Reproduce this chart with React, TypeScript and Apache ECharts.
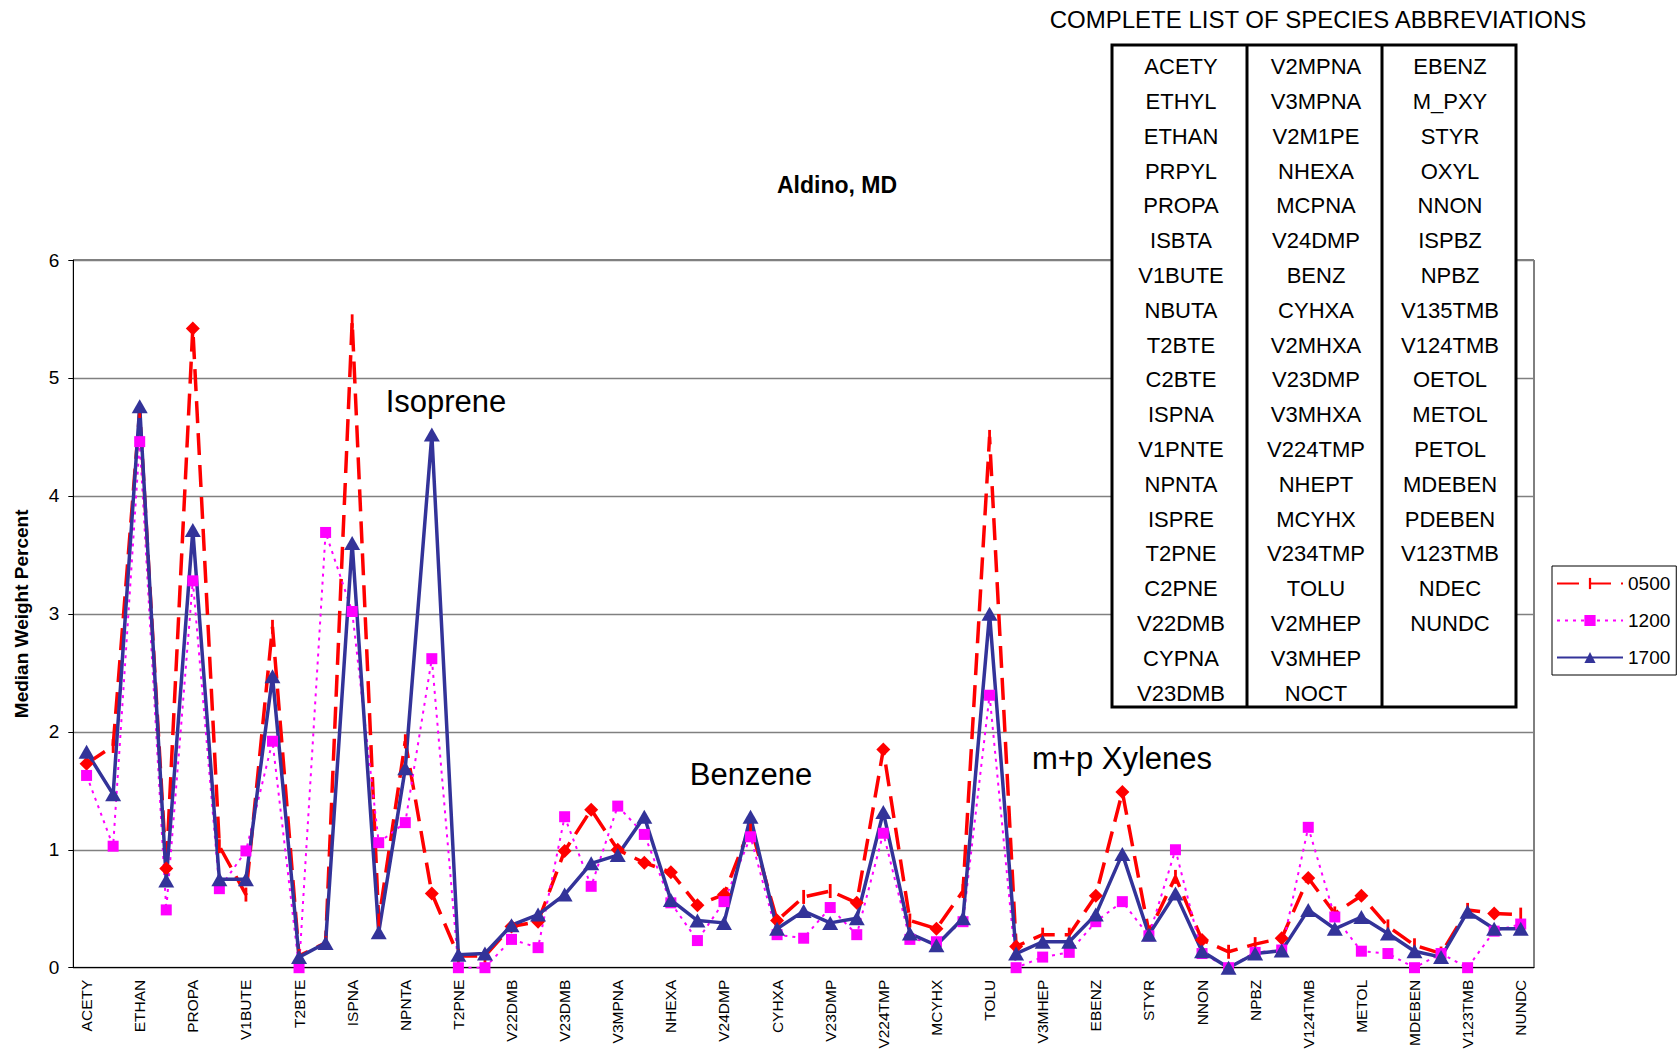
import React, { useEffect, useRef } from "react";
import * as echarts from "echarts";

const FONT = "'Liberation Sans', Arial, Helvetica, sans-serif";

const categories = [
  "ACETY", "ETHYL", "ETHAN", "PRPYL", "PROPA", "ISBTA", "V1BUTE", "NBUTA", "T2BTE", "C2BTE",
  "ISPNA", "V1PNTE", "NPNTA", "ISPRE", "T2PNE", "C2PNE", "V22DMB", "CYPNA", "V23DMB",
  "V2MPNA", "V3MPNA", "V2M1PE", "NHEXA", "MCPNA", "V24DMP", "BENZ", "CYHXA", "V2MHXA", "V23DMP",
  "V3MHXA", "V224TMP", "NHEPT", "MCYHX", "V234TMP", "TOLU", "V2MHEP", "V3MHEP", "NOCT",
  "EBENZ", "M_PXY", "STYR", "OXYL", "NNON", "ISPBZ", "NPBZ", "V135TMB", "V124TMB", "OETOL",
  "METOL", "PETOL", "MDEBEN", "PDEBEN", "V123TMB", "NDEC", "NUNDC",
];

const s0500 = [
  1.73, 1.88, 4.72, 0.84, 5.42, 1.03, 0.62, 2.89, 0.1, 0.21,
  5.48, 0.4, 1.92, 0.63, 0.1, 0.1, 0.35, 0.39, 0.99,
  1.34, 1.0, 0.89, 0.81, 0.53, 0.62, 1.2, 0.4, 0.6, 0.65,
  0.55, 1.85, 0.4, 0.33, 0.65, 4.5, 0.18, 0.28, 0.28,
  0.61, 1.49, 0.3, 0.77, 0.235, 0.135, 0.2, 0.25, 0.76, 0.46,
  0.61, 0.35, 0.19, 0.12, 0.49, 0.46, 0.45,
];

const s1200 = [
  1.63, 1.03, 4.46, 0.49, 3.28, 0.67, 0.99, 1.92, 0.0, 3.69,
  3.02, 1.06, 1.23, 2.62, 0.0, 0.0, 0.24, 0.17, 1.28,
  0.69, 1.37, 1.13, 0.55, 0.23, 0.56, 1.11, 0.28, 0.25, 0.51,
  0.28, 1.14, 0.24, 0.22, 0.39, 2.31, 0.0, 0.09, 0.13,
  0.39, 0.56, 0.27, 1.0, 0.12, 0.0, 0.13, 0.15, 1.19, 0.43,
  0.14, 0.12, 0.0, 0.12, 0.0, 0.31, 0.37,
];

const s1700 = [
  1.83, 1.47, 4.76, 0.74, 3.71, 0.75, 0.75, 2.47, 0.09, 0.21,
  3.6, 0.3, 1.69, 4.52, 0.11, 0.12, 0.36, 0.45, 0.62,
  0.885, 0.955, 1.28, 0.575, 0.4, 0.38, 1.28, 0.33, 0.48, 0.38,
  0.42, 1.32, 0.29, 0.19, 0.42, 3.0, 0.12, 0.22, 0.22,
  0.45, 0.965, 0.28, 0.63, 0.14, 0.0, 0.12, 0.145, 0.49, 0.33,
  0.43, 0.29, 0.14, 0.09, 0.475, 0.33, 0.33,
];

const seriesNames = ["0500", "1200", "1700"];

// 0500 points whose diamond marker is fully visible in the original (others show only a dash tick)
const redDiamondPoints = [0, 3, 4, 13, 16, 17, 18, 19, 20, 21, 22, 23, 24, 26, 29, 30, 32, 35, 38, 39, 42, 45, 46, 48, 53];

const tableColumns = [
  categories.slice(0, 19),
  categories.slice(19, 38),
  categories.slice(38, 55),
];

const annotations = [
  { text: "Isoprene", x: 446, y: 401 },
  { text: "Benzene", x: 751, y: 774 },
  { text: "m+p Xylenes", x: 1122, y: 758 },
];

const TICK_PATH = "path://M0 0M10 0M4 0L6 0L6 10L4 10Z";

export default function App() {
  const ref = useRef<HTMLDivElement>(null);

  useEffect(() => {
    if (!ref.current) return;
    const chart = echarts.init(ref.current, undefined, { renderer: "svg" });

    const tableLeft = 1112;
    const tableTop = 45;
    const tableW = 404;
    const tableH = 662;
    const colCenters = [1181, 1316, 1450];
    const graphic: any[] = [];
    graphic.push({
      type: "rect",
      z: 100,
      shape: { x: tableLeft, y: tableTop, width: tableW, height: tableH },
      style: { fill: "#fff", stroke: "#000", lineWidth: 3 },
    });
    [1247, 1382].forEach((x) =>
      graphic.push({
        type: "line",
        z: 101,
        shape: { x1: x, y1: tableTop, x2: x, y2: tableTop + tableH },
        style: { stroke: "#000", lineWidth: 3 },
      })
    );
    tableColumns.forEach((col, c) =>
      col.forEach((name, r) =>
        graphic.push({
          type: "text",
          z: 102,
          x: colCenters[c],
          y: 66.6 + r * 34.8,
          style: {
            text: name,
            fontSize: 22,
            fontFamily: FONT,
            fill: "#000",
            align: "center",
            verticalAlign: "middle",
          },
        })
      )
    );
    graphic.push({
      type: "text",
      z: 102,
      x: 1318,
      y: 19,
      style: {
        text: "COMPLETE LIST OF SPECIES ABBREVIATIONS",
        fontSize: 24,
        fontFamily: FONT,
        fill: "#000",
        align: "center",
        verticalAlign: "middle",
      },
    });
    graphic.push({
      type: "text",
      z: 102,
      x: 837,
      y: 185,
      style: {
        text: "Aldino, MD",
        fontSize: 23,
        fontWeight: "bold",
        fontFamily: FONT,
        fill: "#000",
        align: "center",
        verticalAlign: "middle",
      },
    });
    annotations.forEach((a) =>
      graphic.push({
        type: "text",
        z: 102,
        x: a.x,
        y: a.y,
        style: {
          text: a.text,
          fontSize: 31,
          fontFamily: FONT,
          fill: "#000",
          align: "center",
          verticalAlign: "middle",
        },
      })
    );

    const diamondSet = new Set(redDiamondPoints);
    const redData = s0500.map((v, i) =>
      diamondSet.has(i) ? { value: v, symbol: "diamond", symbolSize: 14 } : v
    );

    const option: any = {
      animation: false,
      backgroundColor: "#fff",
      textStyle: { fontFamily: FONT },
      grid: {
        left: 73.3,
        right: 146,
        top: 260,
        bottom: 87.3,
        show: true,
        borderColor: "#000",
        borderWidth: 1,
        backgroundColor: "#fff",
      },
      legend: {
        data: seriesNames,
        orient: "vertical",
        left: 1552,
        top: 566,
        itemWidth: 66,
        itemHeight: 14,
        itemGap: 18,
        padding: [8, 6, 8, 4],
        borderColor: "#000",
        borderWidth: 1,
        backgroundColor: "#fff",
        textStyle: { fontSize: 19, color: "#000", fontFamily: FONT },
      },
      xAxis: {
        type: "category",
        data: categories,
        boundaryGap: true,
        axisLine: { lineStyle: { color: "#000", width: 1 } },
        axisTick: { interval: 0, length: 5, lineStyle: { color: "#000" } },
        axisLabel: {
          interval: 1,
          rotate: 90,
          fontSize: 15.5,
          color: "#000",
          margin: 12,
          fontFamily: FONT,
        },
        splitLine: { show: false },
      },
      yAxis: {
        type: "value",
        min: 0,
        max: 6,
        interval: 1,
        name: "Median Weight Percent",
        nameLocation: "middle",
        nameGap: 42,
        nameTextStyle: { fontSize: 19, fontWeight: "bold", color: "#000", fontFamily: FONT },
        axisLine: { show: true, lineStyle: { color: "#000" } },
        axisTick: { show: true, length: 5, lineStyle: { color: "#000" } },
        axisLabel: { fontSize: 19, color: "#000", margin: 14, fontFamily: FONT },
        splitLine: { show: true, lineStyle: { color: "#808080", width: 1.3 } },
      },
      series: [
        {
          name: seriesNames[0],
          type: "line",
          data: redData,
          symbol: TICK_PATH,
          symbolSize: 14,
          showAllSymbol: true,
          lineStyle: { color: "#FF0000", width: 3.5, type: [22, 10] },
          itemStyle: { color: "#FF0000" },
        },
        {
          name: seriesNames[1],
          type: "line",
          data: s1200,
          symbol: "rect",
          symbolSize: 11,
          showAllSymbol: true,
          lineStyle: { color: "#FF00FF", width: 2, type: [3, 5] },
          itemStyle: { color: "#FF00FF" },
        },
        {
          name: seriesNames[2],
          type: "line",
          data: s1700,
          symbol: "triangle",
          symbolSize: [16, 14],
          showAllSymbol: true,
          lineStyle: { color: "#333399", width: 3.5 },
          itemStyle: { color: "#333399" },
        },
      ],
      graphic,
    };

    chart.setOption(option);
    return () => chart.dispose();
  }, []);

  return (
    <div
      ref={ref}
      style={{ position: "absolute", left: 0, top: 0, width: 1680, height: 1055 }}
    />
  );
}
